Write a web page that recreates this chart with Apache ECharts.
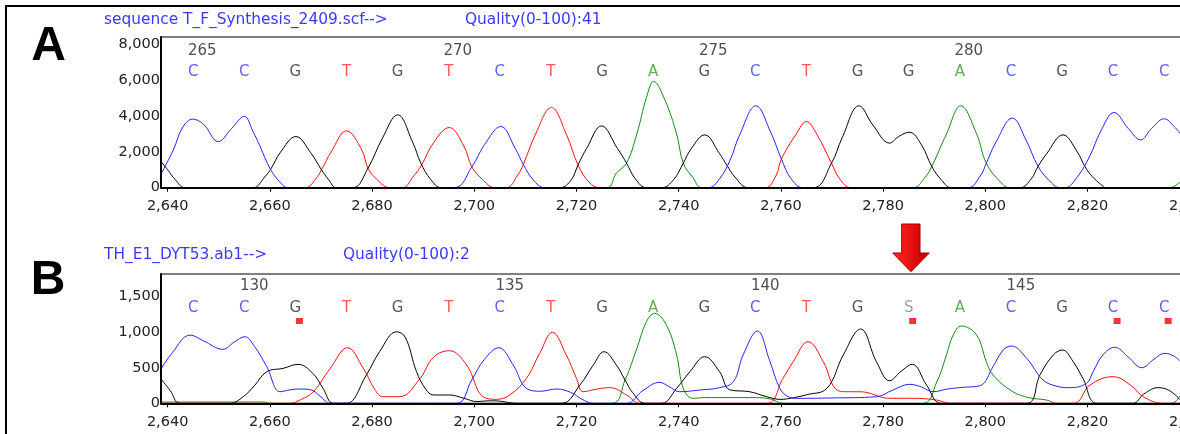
<!DOCTYPE html>
<html>
<head>
<meta charset="utf-8">
<script src="https://cdn.jsdelivr.net/npm/echarts@6/dist/echarts.min.js"></script>
<style>
  html, body { margin: 0; padding: 0; background: #fff; }
  #chart-container { width: 1180px; height: 434px; }
</style>
</head>
<body>
<div id="chart-container"></div>
<script>
// ---- data ----
var basePos = [2645, 2655, 2665, 2675, 2685, 2695, 2705, 2715, 2725, 2735,
               2745, 2755, 2765, 2775, 2785, 2795, 2805, 2815, 2825, 2835];
var basesA = ['C','C','G','T','G','T','C','T','G','A','G','C','T','G','G','A','C','G','C','C'];
var basesB = ['C','C','G','T','G','T','C','T','G','A','G','C','T','G','S','A','C','G','C','C'];
var numA = [[2645, '265'], [2695, '270'], [2745, '275'], [2795, '280']];
var numB = [[2655, '130'], [2705, '135'], [2755, '140'], [2805, '145']];
var flagsB = [2665, 2785, 2825, 2835];

var xTicks = [2640, 2660, 2680, 2700, 2720, 2740, 2760, 2780, 2800, 2820, 2840];
var yTicksA = [0, 2000, 4000, 6000, 8000];
var yTicksB = [0, 500, 1000, 1500];

var blueA = [[2638.6,700],[2641.1,2100],[2643,3400],[2644.9,3830],[2647,3550],[2649.9,2580],[2652.5,3300],[2655,3980],[2656.7,3140],[2658.1,2300],[2660,1090],[2662,300],[2663.6,0],
  [2696,0],[2699.5,1150],[2702,2400],[2705.2,3420],[2708,2200],[2709.6,1300],[2711.5,450],[2713.8,0],
  [2745.8,0],[2748,500],[2750,1500],[2752,3000],[2755.1,4575],[2758,3100],[2760.1,1600],[2762,500],[2764.4,0],
  [2796.6,0],[2799,650],[2800.2,1370],[2802,2500],[2805.3,3886],[2808,2640],[2810.3,1200],[2812.5,400],[2814.6,0],
  [2815.6,0],[2818,600],[2820.5,1800],[2822.5,3100],[2825.2,4200],[2828,3300],[2830.4,2670],[2832.5,3300],[2835,3850],[2837,3400],[2838.2,3000]];
var blackA = [[2638.6,1500],[2640,1000],[2641.5,450],[2643.4,0],
  [2656.7,0],[2659,600],[2660.3,1100],[2662,1950],[2665.1,2856],[2668,1950],[2670.1,1000],[2671.5,450],[2673,0],
  [2676.3,0],[2679.2,1090],[2682,2750],[2685,4070],[2688,2500],[2689.5,1400],[2691.5,450],[2693.6,0],
  [2716.8,0],[2719,450],[2720.3,1270],[2722,2200],[2724.9,3455],[2728,2200],[2729.8,1370],[2731.5,500],[2733.7,0],
  [2736.7,0],[2739,450],[2740.9,1370],[2742.5,2200],[2745.1,2951],[2748,1900],[2749.4,1270],[2751,600],[2753.6,0],
  [2766.3,0],[2769.9,1370],[2772,2800],[2775.3,4575],[2778,3500],[2781.3,2490],[2783,2850],[2785.1,3100],[2787.5,2400],[2789.5,1200],[2791.5,400],[2793.4,0],
  [2806.8,0],[2809,500],[2810.3,1180],[2812,1900],[2815.2,2951],[2818,2000],[2819.5,1180],[2821,600],[2823.4,0]];
var redA = [[2638.6,0],[2666.9,0],[2669,500],[2670.1,1000],[2672,2000],[2675,3175],[2678,2100],[2679.2,1090],[2681,450],[2683.5,0],
  [2686,0],[2688,600],[2689.7,1270],[2692,2500],[2695.1,3360],[2698,2300],[2699.5,1180],[2701.5,500],[2704,0],
  [2706.3,0],[2708.5,700],[2709.6,1300],[2712,3000],[2715.1,4480],[2718,3000],[2720.3,1270],[2722.5,300],[2724.6,0],
  [2756.9,0],[2759,650],[2760.1,1600],[2763,3000],[2765,3696],[2767,3000],[2769.9,1370],[2771.5,500],[2773.8,0],[2838.2,0]];
var greenA = [[2638.6,0],[2725.9,0],[2727.8,810],[2729.8,1370],[2731.8,3000],[2733.7,5040],[2735.1,5936],[2737.3,4900],[2739.6,3000],[2740.9,1370],[2742.8,560],[2744.5,0],
  [2785.9,0],[2788,500],[2789.5,1180],[2792.4,3000],[2795.2,4575],[2798.3,3000],[2800.2,1370],[2802.9,340],[2804.8,0],[2836,0],[2838.2,340]];

var blueB = [[2638.6,470],[2641,720],[2644.4,960],[2647,880],[2650.8,760],[2653,860],[2655.1,937],[2657,800],[2659.4,515],[2662,163],[2664,190],[2666,201],[2668,190],[2670,90],[2671.8,0],
  [2696.5,0],[2699.5,330],[2702,620],[2704.8,782],[2707.6,540],[2710.2,211],[2713,170],[2716.1,201],[2719,150],[2721,60],[2723.3,0],
  [2729.8,0],[2733,180],[2736.3,295],[2738,240],[2740.2,163],[2744.1,187],[2748,220],[2750.7,304],[2752.6,680],[2755.4,1017],[2757.8,600],[2759.8,210],[2761.5,90],[2763,70],
  [2770,75],[2778.7,93],[2782,190],[2785.2,267],[2787.5,230],[2789.8,163],[2792.5,200],[2795.7,225],[2799,248],[2801.5,515],[2803.5,750],[2805.1,806],[2808.1,633],[2811.3,328],
  [2814,240],[2816.5,220],[2819.8,281],[2821.1,445],[2823,680],[2825.3,788],[2828,650],[2830.6,501],[2833,620],[2835.1,703],[2837,660],[2838.2,585]];
var blackB = [[2638.6,351],[2640.5,180],[2642.4,0],[2652.2,0],[2654.8,93],[2657,250],[2659.4,445],[2662.6,492],[2665.5,548],[2668.4,422],[2670.4,211],[2672.4,0],
  [2675,0],[2678.9,400],[2681.5,730],[2684.8,1007],[2686.5,930],[2688.7,445],[2690.5,200],[2692,117],[2695.2,117],[2698,70],[2700.5,25],[2703,35],[2705,30],[2708.3,0],
  [2717.1,0],[2720.7,260],[2723.3,540],[2725.4,726],[2727.8,540],[2729.5,328],[2731,150],[2733.4,0],
  [2736.7,0],[2739.6,211],[2742.2,445],[2745.1,656],[2748,445],[2750,190],[2753.9,163],[2757.2,93],[2760,55],[2761.8,70],[2765,120],[2769,211],[2772.2,680],[2775.6,1045],[2778.7,585],[2781.3,318],[2783.5,450],[2785.7,548],[2788.5,257],[2791.4,0],
  [2808.1,0],[2810.7,400],[2813.3,680],[2815.1,750],[2817.2,585],[2819.1,350],[2821.8,0],
  [2828.9,0],[2831,130],[2833.8,220],[2836,180],[2838.2,46]];
var redB = [[2638.6,0],[2664,0],[2666,50],[2668.5,163],[2671.8,490],[2675.2,782],[2678.3,490],[2680.5,200],[2682.1,93],[2685.4,93],[2689.4,351],[2692,647],[2695.1,740],[2698.5,540],[2701.7,93],[2704.4,56],
  [2707,120],[2710.2,351],[2712.8,703],[2715.3,999],[2718,680],[2720,351],[2721.3,163],[2724,200],[2726.5,220],[2729.8,117],[2732.4,0],
  [2757.2,0],[2760.4,351],[2762.4,585],[2765.3,867],[2768.3,585],[2770.6,211],[2772.9,163],[2775.5,163],[2781.3,70],[2785.9,70],[2790.5,46],[2793,0],
  [2817.2,0],[2820.5,257],[2825,375],[2828.4,257],[2830.9,93],[2834.8,0],[2838.2,0]];
var greenB = [[2638.6,18],[2659,18],[2660,0],[2726.9,0],[2729.5,328],[2731.8,770],[2733.7,1150],[2735.3,1266],[2737.6,1100],[2739.6,680],[2740.9,211],[2742.8,70],[2745,80],[2755,80],[2758,60],[2760.4,0],
  [2787.8,0],[2790.5,300],[2792.4,680],[2793.7,960],[2795.3,1088],[2798.3,960],[2800.2,585],[2801.5,398],[2805.4,163],[2808.5,80],[2812,46],[2814,0],[2836.4,0],[2838.2,117]];

// ---- chart ----
var FONT = '"DejaVu Sans", Verdana, sans-serif';
var baseColor = { C: '#3434ff', G: '#2a2a2a', T: '#ff3030', A: '#3a9a2a', S: '#8a8a8a' };
var traceColor = { blue: '#2424ff', black: '#000000', red: '#ff1010', green: '#128a12' };
var X_MIN = 2638.7, X_MAX = 2842.4;
var Y_MAX_A = 8420, Y_MAX_B = 1820;

function fmt(v) { return v.toLocaleString('en-US'); }

var dom = document.getElementById('chart-container');
var myChart = echarts.init(dom, null, { renderer: 'canvas' });

function xAxisFor(i) {
  return {
    type: 'value', gridIndex: i, min: X_MIN, max: X_MAX, z: 5,
    axisLine: { show: true, lineStyle: { color: '#000', width: 2 } },
    axisTick: { show: true, customValues: xTicks, length: 4, lineStyle: { color: '#000', width: 1 } },
    axisLabel: { customValues: xTicks, formatter: fmt, color: '#222', fontSize: 14.5, fontFamily: FONT, margin: 11 },
    splitLine: { show: false }
  };
}
function yAxisFor(i, max, ticks) {
  return {
    type: 'value', gridIndex: i, min: 0, max: max, z: 5,
    axisLine: { show: true, lineStyle: { color: '#000', width: 2 } },
    axisTick: { show: false },
    axisLabel: { customValues: ticks, formatter: fmt, color: '#222', fontSize: 14.5, fontFamily: FONT, margin: 1 },
    splitLine: { show: false }
  };
}
function trace(data, color, i) {
  return {
    type: 'line', xAxisIndex: i, yAxisIndex: i, data: data,
    showSymbol: false, smooth: 0.4,
    lineStyle: { color: color, width: 1 }, z: 2
  };
}
function letterSeries(bases, i, ymax, dy) {
  return {
    type: 'scatter', xAxisIndex: i, yAxisIndex: i, clip: false, symbolSize: 1,
    itemStyle: { color: 'rgba(0,0,0,0)' }, z: 6,
    data: bases.map(function (b, k) {
      return { name: b, value: [basePos[k], ymax], label: { color: baseColor[b] } };
    }),
    label: { show: true, position: 'inside', offset: [0, dy], formatter: '{b}', fontSize: 15, fontFamily: FONT }
  };
}
function numberSeries(nums, i, ymax, dx, dy) {
  return {
    type: 'scatter', xAxisIndex: i, yAxisIndex: i, clip: false, symbolSize: 1,
    itemStyle: { color: 'rgba(0,0,0,0)' }, z: 6,
    data: nums.map(function (n) { return { name: n[1], value: [n[0], ymax] }; }),
    label: { show: true, position: 'inside', offset: [dx, dy], formatter: '{b}', fontSize: 15, fontFamily: FONT, color: '#222' }
  };
}

var titleStyle = { fontSize: 15.4, fontWeight: 'normal', color: '#3a3aff', fontFamily: FONT };

var option = {
  animation: false,
  title: [
    { text: 'sequence T_F_Synthesis_2409.scf-->', left: 104, top: 12, padding: 0, textStyle: titleStyle },
    { text: 'Quality(0-100):41', left: 465, top: 12, padding: 0, textStyle: titleStyle },
    { text: 'TH_E1_DYT53.ab1-->', left: 104, top: 247, padding: 0, textStyle: titleStyle },
    { text: 'Quality(0-100):2', left: 343, top: 247, padding: 0, textStyle: titleStyle }
  ],
  grid: [
    { left: 161, top: 37, width: 1041, height: 150.7, outerBoundsMode: 'none', containLabel: false,
      show: true, borderColor: '#000', borderWidth: 1 },
    { left: 161, top: 274, width: 1041, height: 129.3, outerBoundsMode: 'none', containLabel: false,
      show: true, borderColor: '#000', borderWidth: 1 }
  ],
  xAxis: [xAxisFor(0), xAxisFor(1)],
  yAxis: [yAxisFor(0, Y_MAX_A, yTicksA), yAxisFor(1, Y_MAX_B, yTicksB)],
  series: [
    trace(greenA, traceColor.green, 0),
    trace(redA, traceColor.red, 0),
    trace(blackA, traceColor.black, 0),
    trace(blueA, traceColor.blue, 0),
    trace(greenB, traceColor.green, 1),
    trace(redB, traceColor.red, 1),
    trace(blackB, traceColor.black, 1),
    trace(blueB, traceColor.blue, 1),
    letterSeries(basesA, 0, Y_MAX_A, 35),
    numberSeries(numA, 0, Y_MAX_A, 9, 14),
    letterSeries(basesB, 1, Y_MAX_B, 34),
    numberSeries(numB, 1, Y_MAX_B, 10, 12.5),
    {
      type: 'scatter', xAxisIndex: 1, yAxisIndex: 1, clip: false, z: 6,
      symbol: 'rect', symbolSize: [7, 6], symbolOffset: [4, 47],
      itemStyle: { color: '#ff0000' },
      data: flagsB.map(function (x) { return [x, Y_MAX_B]; })
    }
  ],
  graphic: [
    { type: 'rect', shape: { x: 6, y: 6, width: 1300, height: 600 },
      style: { fill: 'none', stroke: '#000', lineWidth: 2 }, silent: true },
    { type: 'text', x: 48.5, y: 47, style: { text: 'A', font: 'bold 48px "Liberation Sans", Arial, sans-serif',
      fill: '#000', align: 'center', verticalAlign: 'middle' } },
    { type: 'text', x: 48, y: 281, style: { text: 'B', font: 'bold 48px "Liberation Sans", Arial, sans-serif',
      fill: '#000', align: 'center', verticalAlign: 'middle' } },
    { type: 'polygon', shape: { points: [[901.7,224],[920,224],[920,253],[929.3,253],[911,271.7],[892.7,253],[901.7,253]] },
      style: { fill: new echarts.graphic.LinearGradient(0, 0, 1, 0, [
        { offset: 0, color: '#ff2a1a' }, { offset: 0.5, color: '#e81010' }, { offset: 1, color: '#b80000' }]),
        stroke: '#a00000', lineWidth: 1 } }
  ]
};

myChart.setOption(option);
window.addEventListener('resize', myChart.resize);
</script>
</body>
</html>
